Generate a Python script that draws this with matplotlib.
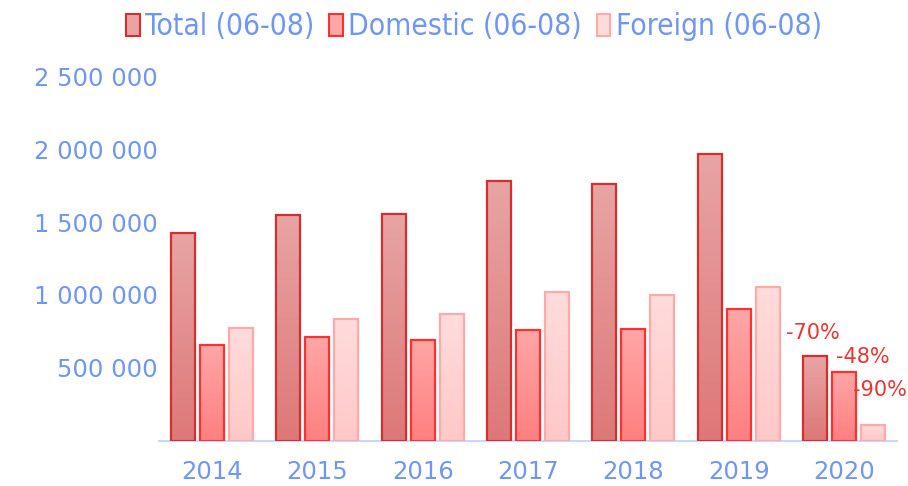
import matplotlib
matplotlib.use("Agg")
import matplotlib.pyplot as plt
import numpy as np
from matplotlib.colors import LinearSegmentedColormap
from matplotlib.patches import Rectangle

years = ["2014", "2015", "2016", "2017", "2018", "2019", "2020"]
series_names = ["Total (06-08)", "Domestic (06-08)", "Foreign (06-08)"]
total = [1427000, 1551000, 1558000, 1780000, 1764000, 1966000, 580000]
domestic = [654000, 711000, 690000, 759000, 766000, 903000, 468000]
foreign = [770000, 834000, 869000, 1020000, 999000, 1054000, 106000]
change_labels = ["-70%", "-48%", "-90%"]
yticks = [500000, 1000000, 1500000, 2000000, 2500000]

series = [total, domestic, foreign]
tops = ["#e8a4a4", "#ffa6a6", "#ffdcdc"]
bottoms = ["#de7878", "#ff8080", "#ffc8c8"]
edges = ["#d32f2f", "#ff3030", "#ffaaaa"]
blue = "#6f96f2"
font = ["DejaVu Sans"]

W, H = 908, 486
fig = plt.figure(figsize=(W / 100, H / 100), dpi=100)
ax_left, ax_right, ax_bottom, ax_top = 159.3, 896.7, 440.5, 61.9
ax = fig.add_axes([ax_left / W, 1 - ax_bottom / H, (ax_right - ax_left) / W, (ax_bottom - ax_top) / H])
ax.set_xlim(-0.5, len(years) - 0.5)
ax.set_ylim(0, 2600000)

bw = 0.228
off = 0.275
x = np.arange(len(years))
for i, vals in enumerate(series):
    cmap = LinearSegmentedColormap.from_list(f"g{i}", [bottoms[i], tops[i]])
    grad = np.linspace(1, 0, 100).reshape(-1, 1)
    for xi, v in zip(x, vals):
        cx = xi + (i - 1) * off
        x0, x1 = cx - bw / 2, cx + bw / 2
        ax.imshow(grad, cmap=cmap, vmin=0, vmax=1, extent=[x0, x1, 0, v],
                  aspect="auto", zorder=2, interpolation="bilinear")
        ax.add_patch(Rectangle((x0, 0), bw, v, fill=False, edgecolor=edges[i],
                               linewidth=1.6, zorder=3))

# legend handles
handles = [Rectangle((0, 0), 1, 1, facecolor=tops[i], edgecolor=edges[i], linewidth=1.5)
           for i in range(3)]
leg = fig.legend(handles, series_names, loc="upper center", bbox_to_anchor=(0.522, 1.03),
                 ncol=3, frameon=False, handlelength=0.45, handleheight=0.75,
                 handletextpad=0.18, columnspacing=0.5,
                 prop={"family": ["DejaVu Sans"], "size": 21.5, "stretch": "condensed"})
for t in leg.get_texts():
    t.set_color(blue)

ax.set_yticks(yticks)
ax.set_yticklabels([f"{v:,}".replace(",", " ") for v in yticks])
ax.set_xticks(x)
ax.set_xticklabels(years)
ax.tick_params(axis="both", length=0, labelcolor=blue, labelsize=17.5)
ax.tick_params(axis="y", pad=1)
ax.tick_params(axis="x", pad=14)
for lbl in ax.get_xticklabels() + ax.get_yticklabels():
    lbl.set_fontfamily(font)

for s in ["top", "right", "left"]:
    ax.spines[s].set_visible(False)
ax.spines["bottom"].set_color("#c8d8f8")
ax.spines["bottom"].set_linewidth(1.5)

# change annotations for last year (offsets in points)
last = len(years) - 1
ann_offsets = [(-1.4, 16.6), (13.7, 10.8), (5, 25)]
for i, lab in enumerate(change_labels):
    cx = last + (i - 1) * off
    ax.annotate(lab, xy=(cx, series[i][last]), xytext=ann_offsets[i],
                textcoords="offset points", ha="center", va="center",
                color="#ee3333", fontsize=15, fontfamily=font, zorder=5)

fig.savefig("out.png", dpi=100)
